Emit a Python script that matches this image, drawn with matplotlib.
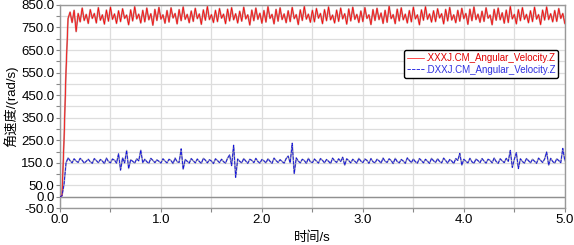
import numpy as np
import matplotlib
matplotlib.use('Agg')
import matplotlib.pyplot as plt

# 字体设置 (中文用 Noto Sans CJK)
plt.rcParams['font.family'] = ['Liberation Sans', 'Noto Sans CJK SC', 'DejaVu Sans']

# 时间轴 0~5 s, 步长 0.02 s
t = np.linspace(0, 5, 251)

# .XXXJ.CM_Angular_Velocity.Z (rad/s)
xxxj = [
    0, 5, 250, 560, 790, 818, 772, 826, 732, 812,
    775, 836, 781, 808, 768, 829, 790, 812, 770, 838,
    782, 806, 765, 827, 778, 840, 786, 810, 768, 824,
    776, 833, 790, 805, 762, 828, 779, 842, 788, 809,
    770, 826, 775, 836, 784, 811, 760, 830, 781, 839,
    787, 806, 769, 825, 774, 837, 792, 812, 766, 829,
    780, 841, 786, 808, 771, 823, 777, 835, 789, 810,
    764, 828, 782, 843, 785, 807, 772, 826, 776, 834,
    791, 809, 767, 831, 779, 838, 784, 811, 770, 822,
    778, 840, 788, 806, 761, 827, 780, 836, 786, 813,
    769, 825, 774, 842, 790, 808, 766, 830, 778, 837,
    785, 810, 771, 824, 776, 839, 789, 807, 763, 828,
    781, 843, 787, 809, 773, 826, 775, 834, 791, 812,
    767, 829, 780, 841, 784, 805, 770, 827, 777, 836,
    788, 811, 765, 832, 779, 840, 786, 808, 772, 823,
    776, 838, 790, 806, 763, 829, 781, 835, 785, 814,
    768, 826, 773, 844, 789, 807, 767, 831, 779, 837,
    784, 809, 770, 825, 775, 840, 788, 806, 762, 828,
    782, 842, 786, 810, 774, 824, 776, 833, 792, 811,
    766, 830, 779, 839, 783, 806, 771, 826, 778, 835,
    789, 812, 764, 831, 780, 841, 785, 809, 773, 822,
    777, 837, 791, 805, 762, 830, 782, 836, 784, 815,
    769, 827, 772, 843, 788, 808, 766, 829, 780, 838,
    786, 808, 771, 824, 776, 840, 787, 807, 763, 827,
    783, 841, 785, 811, 775, 825, 777, 834, 790, 812,
    768,
]

# .DXXJ.CM_Angular_Velocity.Z (rad/s)
dxxj = [
    0, 4, 55, 150, 172, 160, 150, 168, 158, 152,
    170, 161, 149, 157, 166, 155, 148, 169, 160, 151,
    165, 158, 147, 171, 156, 150, 167, 162, 149, 190,
    118, 172, 150, 205, 125, 164, 157, 149, 168, 159,
    206, 150, 166, 155, 148, 170, 161, 151, 163, 157,
    149, 168, 158, 150, 166, 160, 147, 171, 155, 152,
    212, 122, 165, 157, 149, 169, 159, 150, 167, 156,
    148, 170, 162, 150, 164, 158, 147, 168, 160, 151,
    166, 155, 149, 171, 185, 138, 228, 86, 167, 157,
    150, 169, 158, 148, 166, 161, 151, 170, 156, 149,
    165, 159, 150, 168, 157, 148, 171, 160, 152, 164,
    156, 149, 169, 180, 150, 237, 103, 172, 158, 150,
    166, 160, 148, 170, 155, 151, 167, 158, 149, 169,
    161, 150, 165, 157, 147, 171, 159, 152, 168, 156,
    175, 140, 168, 160, 150, 166, 157, 149, 170, 158,
    151, 167, 161, 148, 169, 155, 150, 166, 159, 149,
    171, 157, 152, 168, 160, 147, 170, 156, 150, 165,
    158, 148, 172, 161, 151, 167, 155, 149, 169, 160,
    150, 166, 157, 148, 170, 159, 152, 168, 156, 150,
    171, 160, 149, 165, 158, 147, 169, 161, 192, 140,
    166, 157, 150, 170, 155, 148, 167, 160, 151, 169,
    158, 149, 166, 161, 150, 171, 156, 148, 168, 159,
    151, 170, 157, 205, 130, 166, 195, 125, 168, 156,
    149, 169, 160, 150, 166, 157, 148, 171, 161, 152,
    167, 198, 140, 170, 156, 149, 168, 160, 151, 214,
    160,
]

y_ticks = np.arange(-50, 851, 50)
y_labels = [-50, 0, 50, 150, 250, 350, 450, 550, 650, 750, 850]
x_labels = [0, 1, 2, 3, 4, 5]

fig = plt.figure(figsize=(5.74, 2.45), dpi=100)
ax = fig.add_axes([0.1045, 0.151, 0.8795, 0.829])

# 灰色外沿 + 彩色主线
ax.plot(t, xxxj, color='#c89090', lw=1.3, zorder=3)
ax.plot(t, xxxj, color='#ff0000', lw=0.5, zorder=4, label='.XXXJ.CM_Angular_Velocity.Z')
ax.plot(t, dxxj, color='#9a9ab8', lw=1.1, zorder=3)
ax.plot(t, dxxj, color='#1010e0', lw=0.6, ls='--', dashes=(4, 1.5), zorder=4,
        label='.DXXJ.CM_Angular_Velocity.Z')

ax.axhline(0, color='#909090', lw=1.0, zorder=2)

ax.set_xlim(0, 5)
ax.set_ylim(-50, 850)
ax.set_yticks(y_ticks)
ax.set_yticklabels([f'{v:.1f}' if v in y_labels else '' for v in y_ticks])
ax.set_xticks(np.arange(0, 5.01, 0.5))
ax.set_xticklabels([f'{v:.1f}' if v in x_labels else '' for v in np.arange(0, 5.01, 0.5)])
ax.tick_params(labelsize=9.5, length=3, width=0.8, color='#888888', pad=1)
ax.grid(True, color='#dddddd', lw=0.9, zorder=0)
for s in ax.spines.values():
    s.set_color('#999999')
    s.set_linewidth(1.0)

ax.set_xlabel('时间/s', fontsize=9.5, labelpad=4)
ax.set_ylabel('角速度/(rad/s)', fontsize=9.5, labelpad=2)

leg = ax.legend(loc='upper right', bbox_to_anchor=(0.997, 0.80), fontsize=7,
                handlelength=1.8, handletextpad=0.1, borderpad=0.3, labelspacing=0.15,
                framealpha=1, fancybox=True, edgecolor='black')
leg.get_frame().set_linewidth(1.0)
for txt, c in zip(leg.get_texts(), ['#e00000', '#3030e0']):
    txt.set_color(c)

plt.savefig('out.png', dpi=100)
